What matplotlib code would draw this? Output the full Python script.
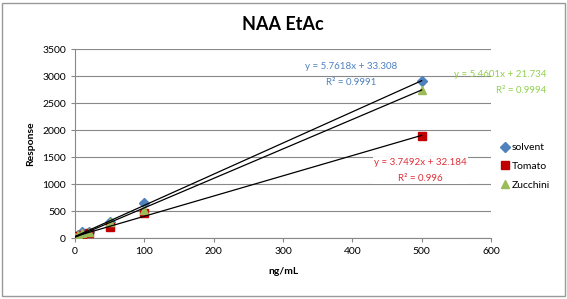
import matplotlib.pyplot as plt
import numpy as np
from matplotlib.patches import Rectangle

plt.rcParams['font.family'] = ['Lato', 'DejaVu Sans']

conc = [0, 5, 10, 20, 50, 100, 500]
solvent = [20, 60, 110, 120, 290, 640, 2910]
tomato = [15, 40, 60, 90, 200, 470, 1890]
zucchini = [10, 50, 100, 110, 300, 510, 2750]

series = [
    ("solvent", solvent, "D", "#4F81BD", "y = 5.7618x + 33.308", "R² = 0.9991", (398, 3030), "center", False),
    ("Tomato", tomato, "s", "#C00000", "y = 3.7492x + 32.184", "R² = 0.996", (498, 1250), "center", True),
    ("Zucchini", zucchini, "^", "#9BBB59", "y = 5.4601x + 21.734", "R² = 0.9994", (680, 2880), "right", False),
]
eq_colors = {"solvent": "#4F81BD", "Tomato": "#E0303A", "Zucchini": "#92D050"}

fig = plt.figure(figsize=(5.67, 2.99), dpi=100)
fig.patches.append(Rectangle((0.004, 0.01), 0.992, 0.98, transform=fig.transFigure,
                             fill=False, edgecolor="#999999", linewidth=1))
ax = fig.add_axes([0.1323, 0.204, 0.7337, 0.632])

x_arr = np.array(conc)
xfit = np.array([0, 500])
for name, vals, mk, col, eq, r2, pos, ha, box in series:
    ax.plot(x_arr, vals, linestyle="none", marker=mk, color=col, markersize=5.5 if mk != "D" else 5,
            label=name, zorder=3)
    k, b = np.polyfit(x_arr, vals, 1)
    ax.plot(xfit, k * xfit + b, color="black", linewidth=0.9, zorder=4)
    t = ax.text(pos[0], pos[1], eq + "\n" + r2, color=eq_colors[name], fontsize=7, ha=ha,
                va="center", multialignment="right" if ha == "right" else "center",
                linespacing=1.9, clip_on=False, zorder=2)
    if box:
        t.set_bbox(dict(facecolor="white", edgecolor="none", pad=1))

ax.set_xlim(0, 600)
ax.set_ylim(0, 3500)
ax.set_xticks(range(0, 601, 100))
ax.set_yticks(range(0, 3501, 500))
ax.grid(axis="y", color="#888888", linewidth=0.8, zorder=0)
ax.set_axisbelow(True)
for s in ["top", "right"]:
    ax.spines[s].set_visible(False)
for s in ["left", "bottom"]:
    ax.spines[s].set_color("#888888")
ax.tick_params(colors="#888888", labelcolor="black", labelsize=7.5, length=3)
ax.set_xlabel("ng/mL", fontsize=7.5, fontweight="bold", labelpad=8)
ax.set_ylabel("Response", fontsize=7.5, fontweight="bold", labelpad=5)
ax.set_title("NAA EtAc", fontsize=13, fontweight="bold", pad=14)
ax.legend(loc="center left", bbox_to_anchor=(1.0, 0.38), frameon=False, fontsize=7.5,
          handletextpad=0.1, handlelength=1.2, labelspacing=0.9, borderaxespad=0.3)

fig.savefig("out.png", dpi=100)
